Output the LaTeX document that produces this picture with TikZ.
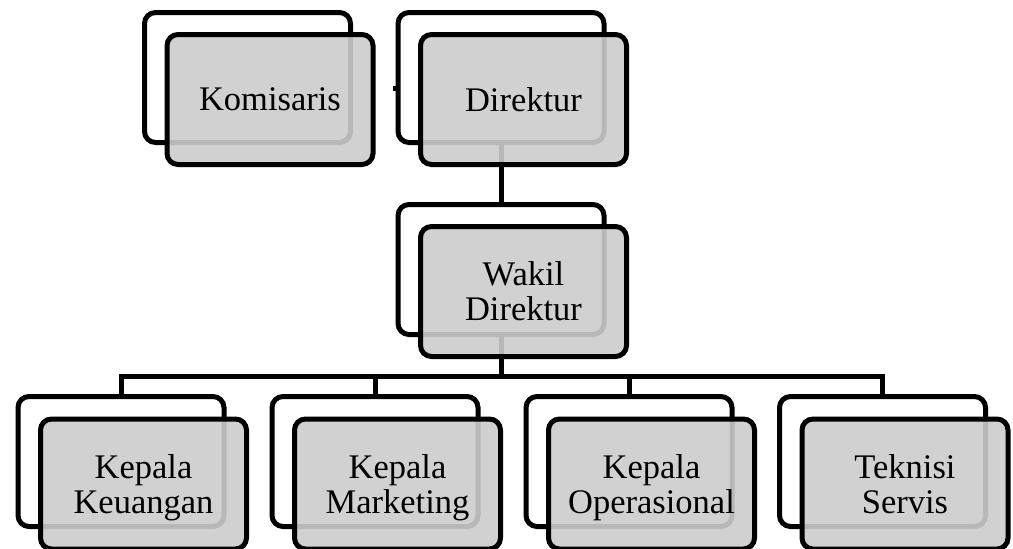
\documentclass[tikz,border=0pt]{standalone}
\usepackage{fontspec}
\setmainfont{Liberation Serif}
\newcommand{\nodesc}[1]{\raisebox{0pt}[\height][0pt]{#1}}
\begin{document}
\begin{tikzpicture}[x=1pt,y=-1pt,
  card/.style={rectangle, rounded corners=11pt, line width=5pt, draw=black,
    minimum width=206pt, minimum height=130pt, inner sep=0pt},
  backcard/.style={card, fill=white},
  frontcard/.style={card, fill=black!20, fill opacity=0.9, text opacity=1,
    align=center, font=\fontsize{34.5}{35}\selectfont},
  link/.style={line width=5pt, draw=black}]
\useasboundingbox (0,0) rectangle (1013,549);
% back cards
\node[backcard] (komb) at (247.5,77.5) {};
\node[backcard] (dirb) at (501,77.5) {};
\node[backcard] (wakb) at (501,269.5) {};
\node[backcard] (k1b) at (121,461.5) {};
\node[backcard] (k2b) at (375,461.5) {};
\node[backcard] (k3b) at (629,461.5) {};
\node[backcard] (k4b) at (882.5,461.5) {};
% connectors
\coordinate (bus) at (501,376.5);
\coordinate (stub) at (392.5,88);
\draw[link] (dirb.west |- stub) -- (stub);
\draw[link] (dirb.south) -- (wakb.north);
\draw[link] (wakb.south) -- (bus);
\draw[link] (k1b.north) |- (bus) -| (k4b.north);
\draw[link] (bus) -| (k2b.north);
\draw[link] (bus) -| (k3b.north);
% front cards
\node[frontcard] (kom) at (270,99.5) {Komisaris};
\node[frontcard] (dir) at (523.5,99.5) {Direktur};
\node[frontcard] (wak) at (523.5,291.5) {Wakil\\Direktur};
\node[frontcard] (k1) at (143.5,484) {Kepala\\\nodesc{Keuangan}};
\node[frontcard] (k2) at (397.5,484) {Kepala\\\nodesc{Marketing}};
\node[frontcard] (k3) at (651.5,484) {Kepala\\\nodesc{Operasional}};
\node[frontcard] (k4) at (905,484) {Teknisi\\Servis};
\end{tikzpicture}
\end{document}
